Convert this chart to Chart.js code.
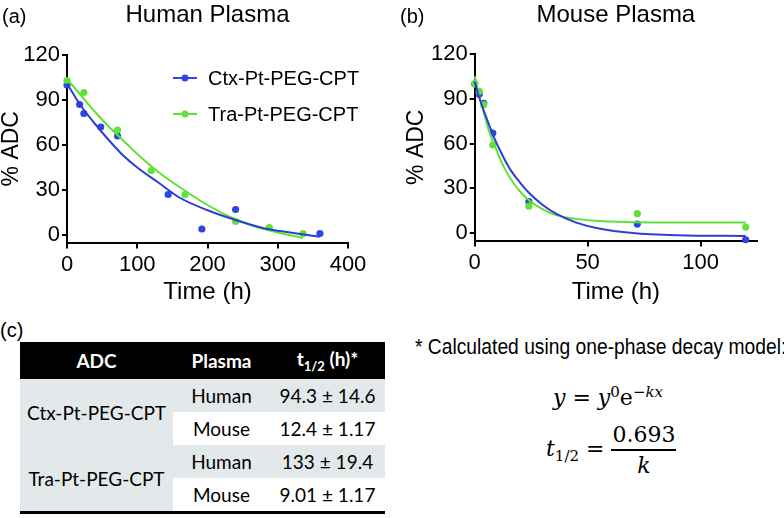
<!DOCTYPE html>
<html>
<head>
<meta charset="utf-8">
<script src="https://cdn.jsdelivr.net/npm/chart.js@4.4.1/dist/chart.umd.min.js"></script>
<style>
  body { margin: 0; background: #fff; width: 784px; height: 518px; position: relative; overflow: hidden;
         font-family: "Liberation Sans", Arial, sans-serif; color: #000; }
  .box { position: absolute; }
  .tag { position: absolute; font-size: 20px; line-height: 20px; }
  #tbl { position: absolute; left: 20px; top: 342px; width: 365px; border-collapse: collapse;
         font-family: Lato, "Open Sans", sans-serif; font-size: 19px; border-bottom: 3px solid #000; }
  #tbl th { background: #000; color: #fff; height: 37px; padding: 0; font-weight: 700; }
  #tbl td { height: 33px; padding: 0; text-align: center; }
  #tbl .g { background: #e3e9eb; }
  #tbl sub { font-size: 13px; }
  #note { position: absolute; left: 415px; top: 334px; font-family: "Liberation Sans", Arial, sans-serif;
          font-size: 22px; white-space: nowrap; transform: scaleX(0.875); transform-origin: 0 0; }
  .eq { position: absolute; font-family: "DejaVu Serif", serif; font-size: 22px; white-space: nowrap; }
  .eq sup { font-size: 15px; }
  .eq sub { font-size: 15px; }
  .frac { display: inline-flex; flex-direction: column; align-items: center; vertical-align: middle; }
  .frac .num { border-bottom: 2px solid #000; padding: 0 1px 2px; }
  .frac .den { padding-top: 2px; }
</style>
</head>
<body>
<div class="box" style="left:0;top:0;width:400px;height:310px"><canvas id="chartA"></canvas></div>
<div class="box" style="left:400px;top:0;width:384px;height:310px"><canvas id="chartB"></canvas></div>
<div class="tag" style="left:2px;top:6px">(a)</div>
<div class="tag" style="left:400px;top:6px">(b)</div>
<div class="tag" style="left:0;top:320px">(c)</div>

<table id="tbl">
  <tr><th style="width:153px">ADC</th><th style="width:97px">Plasma</th><th>t<sub>1/2</sub> (h)*</th></tr>
  <tr><td class="g" rowspan="2">Ctx-Pt-PEG-CPT</td><td class="g">Human</td><td class="g">94.3 ± 14.6</td></tr>
  <tr><td>Mouse</td><td>12.4 ± 1.17</td></tr>
  <tr><td class="g" rowspan="2">Tra-Pt-PEG-CPT</td><td class="g">Human</td><td class="g">133 ± 19.4</td></tr>
  <tr><td>Mouse</td><td>9.01 ± 1.17</td></tr>
</table>

<div id="note">* Calculated using one-phase decay model:</div>
<div class="eq" style="left:553px;top:383px"><i>y</i> = <i>y</i><sup>0</sup>e<sup>−<i>kx</i></sup></div>
<div class="eq" style="left:546px;top:422px"><i>t</i><sub>1/2</sub> = <span class="frac"><span class="num">0.693</span><span class="den"><i>k</i></span></span></div>

<script>
// Human plasma - measured points
const humanCtxT = [0, 18, 24, 48, 72, 144, 192, 240, 360];
const humanCtxY = [100, 87, 81, 72, 66, 27, 4, 17, 1];
const humanTraT = [0, 24, 72, 120, 168, 240, 288, 336];
const humanTraY = [103, 95, 70, 43, 27, 9, 5, 1];
// Human plasma - fitted curves
const humanCtxFitT = [0, 20, 40, 60, 80, 100, 130, 160, 200, 240, 280, 320, 360];
const humanCtxFitY = [101, 86, 74, 63, 53, 45, 35, 25, 16.5, 10, 4.5, 1.5, -1.2];
const humanTraFitT = [0, 20, 40, 60, 80, 100, 130, 160, 200, 240, 280, 336];
const humanTraFitY = [104, 93, 82, 72, 63, 54, 42, 32, 20, 10.5, 4, -2];

// Mouse plasma
const mouseCtxT = [0, 2, 4, 8, 24, 72, 120];
const mouseCtxY = [100, 93, 87, 67, 21, 6, -4.5];
const mouseTraT = [0, 2, 4, 8, 24, 72, 120];
const mouseTraY = [100, 95, 86, 59, 18, 13, 4];
const mouseCtxFitT = [0, 2, 4, 6, 8, 12, 16, 20, 24, 30, 36, 45, 55, 70, 90, 120];
const mouseCtxFitY = [101.5, 91, 82, 74, 66, 53, 42, 34, 27, 19, 13, 7, 3, 0, -1.5, -2];
const mouseTraFitT = [0, 2, 4, 6, 8, 12, 16, 20, 24, 30, 36, 45, 55, 70, 90, 120];
const mouseTraFitY = [105, 92, 81, 70, 62, 47, 36, 28, 22, 16, 12, 9.5, 8, 7.3, 7, 7];

const yTicks = [0, 30, 60, 90, 120];
const humanXTicks = [0, 100, 200, 300, 400];
const mouseXTicks = [0, 50, 100];
const seriesNames = ['Ctx-Pt-PEG-CPT', 'Tra-Pt-PEG-CPT'];

const BLUE = '#2f45e6';
const BLUE_LINE = '#2c3fd2';
const GREEN = '#5ee23a';

const pts = (xs, ys) => xs.map((x, i) => ({ x, y: ys[i] }));

const tickFont = { family: '"Liberation Sans", Arial, sans-serif', size: 22 };
const labelFont = { family: '"Liberation Sans", Arial, sans-serif', size: 24 };

// legend drawn as line + dot, like the original
const lineLegend = {
  id: 'lineLegend',
  afterDraw(chart, args, opts) {
    if (!opts.show) return;
    const ctx = chart.ctx;
    ctx.save();
    ctx.font = '20px "Liberation Sans", Arial, sans-serif';
    ctx.textBaseline = 'middle';
    seriesNames.forEach((name, i) => {
      const y = opts.y + i * opts.gap;
      const c = i === 0 ? BLUE : GREEN;
      ctx.strokeStyle = c;
      ctx.fillStyle = c;
      ctx.lineWidth = 2;
      ctx.beginPath();
      ctx.moveTo(opts.x, y);
      ctx.lineTo(opts.x + 24, y);
      ctx.stroke();
      ctx.beginPath();
      ctx.arc(opts.x + 12, y, 3.5, 0, Math.PI * 2);
      ctx.fill();
      ctx.fillStyle = '#000';
      ctx.fillText(name, opts.x + 35, y + 1);
    });
    ctx.restore();
  }
};

function makeChart(id, cfg) {
  const datasets = [
    { data: pts(cfg.fitCtx[0], cfg.fitCtx[1]), showLine: true, borderColor: BLUE_LINE, borderWidth: 2,
      pointRadius: 0, cubicInterpolationMode: 'monotone', clip: 8 },
    { data: pts(cfg.fitTra[0], cfg.fitTra[1]), showLine: true, borderColor: GREEN, borderWidth: 2,
      pointRadius: 0, cubicInterpolationMode: 'monotone', clip: 8 },
    { label: seriesNames[1], data: pts(cfg.tra[0], cfg.tra[1]), showLine: false, pointRadius: 3.6,
      pointBackgroundColor: GREEN, pointBorderWidth: 0, clip: 8 },
    { label: seriesNames[0], data: pts(cfg.ctx[0], cfg.ctx[1]), showLine: false, pointRadius: 3.6,
      pointBackgroundColor: BLUE, pointBorderWidth: 0, clip: 8 }
  ];
  return new Chart(document.getElementById(id), {
    type: 'scatter',
    data: { datasets },
    options: {
      responsive: true, maintainAspectRatio: false, animation: false,
      layout: { padding: { left: 0, right: cfg.padRight, top: 0, bottom: 0 } },
      plugins: {
        legend: { display: false },
        tooltip: { enabled: false },
        title: { display: true, text: cfg.title, fullSize: false, color: '#000',
                 font: { ...labelFont, weight: 'normal', lineHeight: 1.2 },
                 padding: { top: 1, bottom: cfg.top - 1 - 28.8 } },
        lineLegend: cfg.legend
      },
      scales: {
        x: {
          type: 'linear', min: 0, max: cfg.xMax,
          afterBuildTicks: s => { s.ticks = cfg.xTicks.map(v => ({ value: v })); },
          afterFit: s => { s.height = cfg.xHeight; },
          grid: { drawOnChartArea: false, drawTicks: true, tickLength: 6, color: '#000', lineWidth: 2 },
          border: { color: '#000', width: 2 },
          ticks: { color: '#000', font: tickFont, padding: 3, maxRotation: 0 },
          title: { display: true, text: 'Time (h)', color: '#000', font: { ...labelFont, lineHeight: 1.2 },
                   padding: { top: 0, bottom: 3 } }
        },
        y: {
          type: 'linear', min: -5, max: 120,
          afterBuildTicks: s => { s.ticks = yTicks.map(v => ({ value: v })); },
          afterFit: s => { s.width = cfg.yWidth; },
          grid: { drawOnChartArea: false, drawTicks: true, tickLength: 5, color: '#000', lineWidth: 2 },
          border: { color: '#000', width: 2 },
          ticks: { color: '#000', font: tickFont, padding: 2 },
          title: { display: true, text: '% ADC', color: '#000', font: { ...labelFont, size: 23, lineHeight: 1 },
                   padding: { top: cfg.yTitlePad, bottom: 0 } }
        }
      }
    },
    plugins: [lineLegend]
  });
}

makeChart('chartA', {
  title: 'Human Plasma', top: 55, padRight: 52, xMax: 400, xTicks: humanXTicks,
  xHeight: 67.5, yWidth: 67, yTitlePad: 0,
  ctx: [humanCtxT, humanCtxY], tra: [humanTraT, humanTraY],
  fitCtx: [humanCtxFitT, humanCtxFitY], fitTra: [humanTraFitT, humanTraFitY],
  legend: { show: true, x: 173, y: 78, gap: 36 }
});

makeChart('chartB', {
  title: 'Mouse Plasma', top: 54, padRight: 27, xMax: 125, xTicks: mouseXTicks,
  xHeight: 69.5, yWidth: 74.7, yTitlePad: 5,
  ctx: [mouseCtxT, mouseCtxY], tra: [mouseTraT, mouseTraY],
  fitCtx: [mouseCtxFitT, mouseCtxFitY], fitTra: [mouseTraFitT, mouseTraFitY],
  legend: { show: false }
});
</script>
</body>
</html>
